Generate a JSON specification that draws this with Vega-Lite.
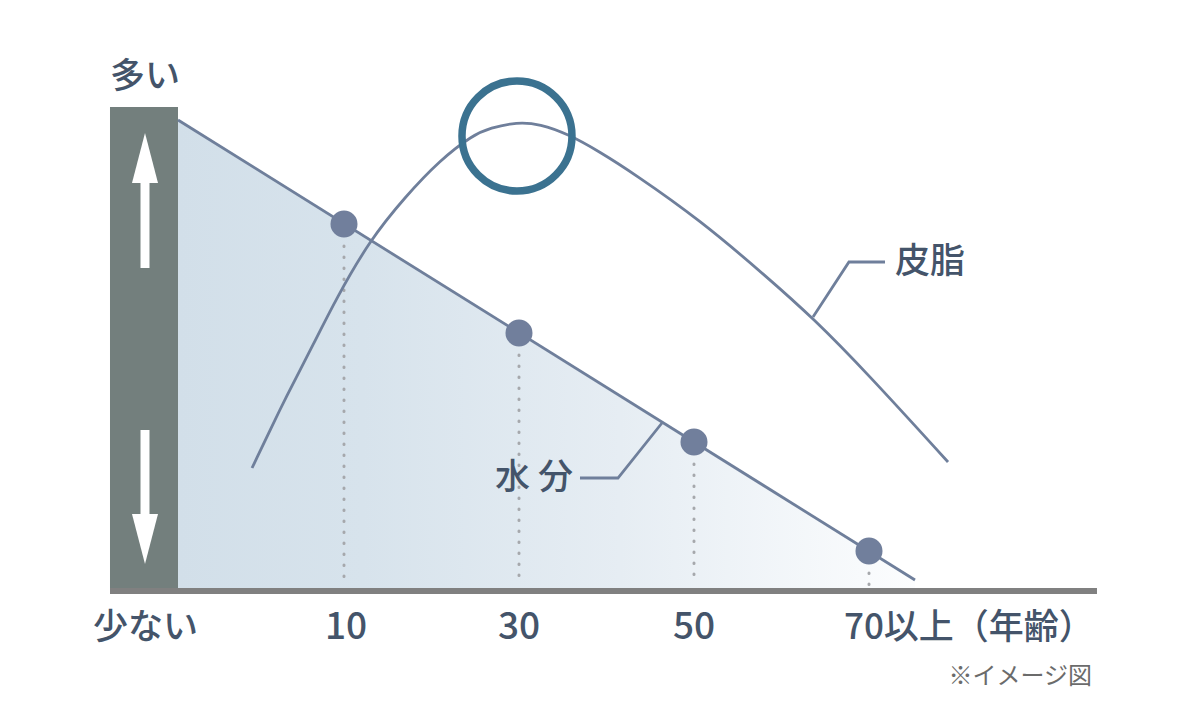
{
  "$schema": "https://vega.github.io/schema/vega-lite/v6.json",
  "autosize": {"type": "fit", "contains": "padding"},
  "width": 1200,
  "height": 709,
  "padding": 0,
  "background": "white",
  "config": {"view": {"stroke": null}},
  "datasets": {
    "water": [
      {"age": -8.971, "v": 470},
      {"age": 75.257, "v": 10}
    ],
    "dots": [
      {"age": 10, "v": 366},
      {"age": 30, "v": 257},
      {"age": 50, "v": 148},
      {"age": 70, "v": 39}
    ],
    "sebum": [
      {"age": -0.51, "v": 122},
      {"age": 3.03, "v": 187},
      {"age": 4.4, "v": 210},
      {"age": 6.34, "v": 243},
      {"age": 9.2, "v": 293},
      {"age": 12.97, "v": 350},
      {"age": 16.97, "v": 393},
      {"age": 20.97, "v": 430},
      {"age": 24.74, "v": 455},
      {"age": 26.69, "v": 462},
      {"age": 29.77, "v": 468},
      {"age": 32.4, "v": 466},
      {"age": 35.6, "v": 456},
      {"age": 39.26, "v": 438},
      {"age": 43.03, "v": 417},
      {"age": 50.69, "v": 370},
      {"age": 58.34, "v": 313},
      {"age": 63.6, "v": 272},
      {"age": 69.77, "v": 217},
      {"age": 79.03, "v": 128}
    ],
    "peak": [{"age": 29.77, "v": 454}],
    "leaders": [
      {"g": "sebum", "o": 1, "age": 63.6, "v": 273},
      {"g": "sebum", "o": 2, "age": 67.71, "v": 328},
      {"g": "sebum", "o": 3, "age": 71.83, "v": 328},
      {"g": "water", "o": 1, "age": 46.34, "v": 167},
      {"g": "water", "o": 2, "age": 41.31, "v": 112},
      {"g": "water", "o": 3, "age": 36.97, "v": 112}
    ],
    "bar": [{"age": -16.743, "age2": -8.971, "v": 0, "v2": 483}],
    "baseline": [{"age": -16.743, "age2": 96.057, "v": -1}],
    "shafts": [
      {"age": -12.743, "v": 407, "v2": 322},
      {"age": -12.743, "v": 160, "v2": 75}
    ],
    "heads": [
      {"age": -12.743, "v": 432, "dir": "up"},
      {"age": -12.743, "v": 51, "dir": "down"}
    ],
    "leftLabels": [
      {"age": -16.743, "v": 513, "label": "多い"},
      {"age": -18.686, "v": -38, "label": "少ない"},
      {"age": 67.14, "v": -38, "label": "70以上（年齢）"},
      {"age": 72.97, "v": 328, "label": "皮脂"},
      {"age": 27.26, "v": 112, "label": "水 分"}
    ],
    "ticks": [
      {"age": 10.23, "v": -38, "label": "10"},
      {"age": 30, "v": -38, "label": "30"},
      {"age": 50, "v": -38, "label": "50"}
    ],
    "note": [{"age": 95.49, "v": -87, "label": "※イメージ図"}]
  },
  "encoding": {
    "x": {
      "field": "age",
      "type": "quantitative",
      "scale": {"domain": [-29.314, 107.829], "nice": false, "zero": false},
      "axis": null
    },
    "y": {
      "field": "v",
      "type": "quantitative",
      "scale": {"domain": [-119, 590], "nice": false, "zero": false},
      "axis": null
    }
  },
  "layer": [
    {
      "data": {"name": "water"},
      "mark": {
        "type": "area",
        "color": {
          "gradient": "linear",
          "x1": 0, "y1": 0, "x2": 1, "y2": 0,
          "stops": [
            {"offset": 0, "color": "#d2dfe9"},
            {"offset": 0.25, "color": "#d7e3ec"},
            {"offset": 0.6, "color": "#e6edf3"},
            {"offset": 1, "color": "#fcfdfe"}
          ]
        }
      },
      "encoding": {"y2": {"datum": 0}}
    },
    {
      "data": {"name": "bar"},
      "mark": {"type": "rect", "color": "#737f7d"},
      "encoding": {
        "x2": {"field": "age2"},
        "y2": {"field": "v2"}
      }
    },
    {
      "data": {"name": "shafts"},
      "mark": {"type": "rule", "color": "white", "strokeWidth": 9},
      "encoding": {"y2": {"field": "v2"}}
    },
    {
      "data": {"name": "heads"},
      "mark": {"type": "point", "filled": true, "color": "white", "opacity": 1, "size": 2500},
      "encoding": {
        "shape": {
          "field": "dir",
          "type": "nominal",
          "scale": {
            "domain": ["up", "down"],
            "range": ["M0,-1L0.52,1L-0.52,1Z", "M0,1L0.52,-1L-0.52,-1Z"]
          },
          "legend": null
        }
      }
    },
    {
      "data": {"name": "baseline"},
      "mark": {"type": "rule", "color": "#808080", "strokeWidth": 6},
      "encoding": {"x2": {"field": "age2"}}
    },
    {
      "data": {"name": "dots"},
      "mark": {"type": "rule", "color": "#a6a8ac", "strokeWidth": 3, "strokeCap": "round", "strokeDash": [0.5, 10.5]},
      "encoding": {"y2": {"datum": 5}}
    },
    {
      "data": {"name": "water"},
      "mark": {"type": "line", "color": "#6f7f9b", "strokeWidth": 2.8},
      "encoding": {}
    },
    {
      "data": {"name": "sebum"},
      "mark": {"type": "line", "color": "#6f7f9b", "strokeWidth": 2.8, "interpolate": "basis"},
      "encoding": {}
    },
    {
      "data": {"name": "dots"},
      "mark": {"type": "circle", "color": "#717f9c", "opacity": 1, "size": 730},
      "encoding": {}
    },
    {
      "data": {"name": "peak"},
      "mark": {"type": "point", "shape": "circle", "filled": false, "stroke": "#3b7290", "strokeWidth": 7.5, "opacity": 1, "size": 12100},
      "encoding": {}
    },
    {
      "data": {"name": "leaders"},
      "mark": {"type": "line", "color": "#6f7f9b", "strokeWidth": 2.8},
      "encoding": {
        "detail": {"field": "g"},
        "order": {"field": "o"}
      }
    },
    {
      "data": {"name": "leftLabels"},
      "mark": {"type": "text", "align": "left", "baseline": "middle", "font": "Noto Sans CJK JP", "fontSize": 35, "fontWeight": 500, "color": "#44546a"},
      "encoding": {"text": {"field": "label"}}
    },
    {
      "data": {"name": "ticks"},
      "mark": {"type": "text", "align": "center", "baseline": "middle", "font": "Noto Sans CJK JP", "fontSize": 37, "fontWeight": 500, "color": "#44546a"},
      "encoding": {"text": {"field": "label"}}
    },
    {
      "data": {"name": "note"},
      "mark": {"type": "text", "align": "right", "baseline": "middle", "font": "Noto Sans CJK JP", "fontSize": 24, "color": "#6b6b6b"},
      "encoding": {"text": {"field": "label"}}
    }
  ]
}
